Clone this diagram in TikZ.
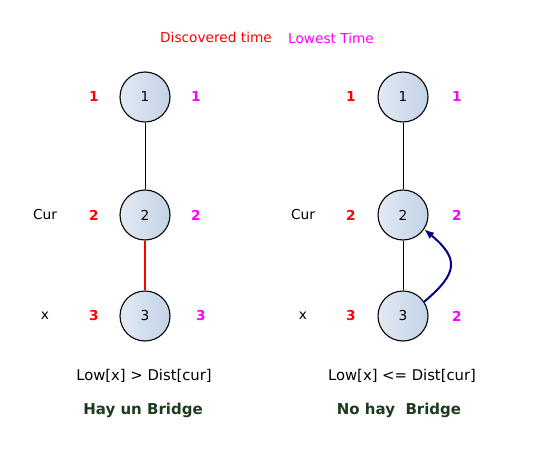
\documentclass[tikz,border=0pt]{standalone}
\usepackage{fontspec}
\setmainfont{DejaVu Sans}
\usepackage{tikz}
\usetikzlibrary{arrows.meta,positioning,calc}

\definecolor{nodefillA}{HTML}{E2E9F3}
\definecolor{nodefillB}{HTML}{C3D3E7}
\definecolor{bridgegreen}{HTML}{1E3B1E}
\definecolor{backblue}{HTML}{000080}
\definecolor{lowmag}{RGB}{255,0,255}
\definecolor{discred}{RGB}{255,0,0}

\tikzset{
  vertex/.style={draw, circle, minimum size=50pt, inner sep=0pt, line width=1.1pt,
    left color=nodefillA, right color=nodefillB, font=\fontsize{13.7}{16}\selectfont},
  disc/.style={text=discred, font=\fontsize{13.7}{16}\selectfont\bfseries},
  low/.style={text=lowmag, font=\fontsize{13.7}{16}\selectfont\bfseries},
  tag/.style={font=\fontsize{13.7}{16}\selectfont},
  cond/.style={font=\fontsize{14.8}{17}\selectfont},
  verdict/.style={text=bridgegreen, font=\fontsize{15}{18}\selectfont\bfseries},
}

\begin{document}
\begin{tikzpicture}[x=1pt, y=-1pt, >={Latex[length=10pt,width=8pt]}]
  \useasboundingbox (0,0) rectangle (535,449);

  \node[tag, text=discred] (hdisc) at (216,37) {Discovered time};
  \node[tag, text=lowmag] (hlow) at (331,38) {Lowest Time};

  % left graph
  \node[vertex] (a1) at (145,97) {1};
  \node[vertex] (a2) at (145,215) {2};
  \node[vertex] (a3) at (145,316) {3};
  \node[disc] (ad1) at (94,97) {1};
  \node[disc] (ad2) at (94,215) {2};
  \node[disc] (ad3) at (94,316) {3};
  \node[low] (al1) at (196,97) {1};
  \node[low] (al2) at (196,215) {2};
  \node[low] (al3) at (201,316) {3};
  \node[tag] (acur) at (45,215) {Cur};
  \node[tag] (ax) at (45,316) {x};

  \draw[line width=0.8pt] (a1) -- (a2);
  \draw[discred, line width=1.8pt] (a2) -- (a3);

  \node[cond] (acond) at (144,376) {Low[x] > Dist[cur]};
  \node[verdict] (ares) at (143,410) {Hay un Bridge};

  % right graph
  \node[vertex] (b1) at (403,97) {1};
  \node[vertex] (b2) at (403,215) {2};
  \node[vertex] (b3) at (403,316) {3};
  \node[disc] (bd1) at (351,97) {1};
  \node[disc] (bd2) at (351,215) {2};
  \node[disc] (bd3) at (351,316) {3};
  \node[low] (bl1) at (457,97) {1};
  \node[low] (bl2) at (457,215) {2};
  \node[low] (bl3) at (457,316) {2};
  \node[tag] (bcur) at (303,215) {Cur};
  \node[tag] (bx) at (303,316) {x};

  \draw[line width=0.8pt] (b1) -- (b2);
  \draw[line width=0.8pt] (b2) -- (b3);
  \draw[->, backblue, line width=2pt] (b3.34) to[out=40, in=-40, looseness=1.6] (b2.-34);

  \node[cond] (bcond) at (402,376) {Low[x] <= Dist[cur]};
  \node[verdict] (bres) at (399,410) {No hay\ \ Bridge};
\end{tikzpicture}
\end{document}
